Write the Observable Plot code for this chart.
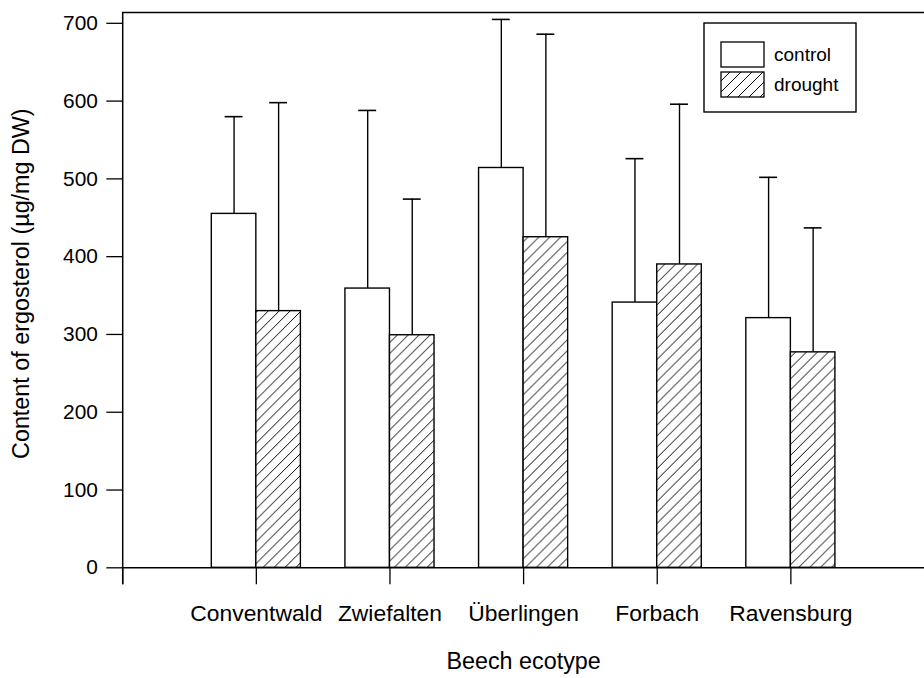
<!DOCTYPE html>
<html>
<head>
<meta charset="utf-8">
<script src="https://cdn.jsdelivr.net/npm/d3@7"></script>
<script src="https://cdn.jsdelivr.net/npm/@observablehq/plot@0.6"></script>
<style>
  html, body { margin: 0; padding: 0; background: #fff; overflow: hidden; }
  #wrap { position: relative; width: 924px; height: 678px; overflow: hidden; }
  #legend { position: absolute; left: 703px; top: 22px; }
  text { font-family: "Liberation Sans", Arial, sans-serif; }
</style>
</head>
<body>
<div id="wrap"></div>
<script>
// ---- data ----
const categories = ["Conventwald", "Zwiefalten", "Überlingen", "Forbach", "Ravensburg"];
const seriesNames = ["control", "drought"];
const controlMean = [455, 359, 514, 341, 321];
const controlSD   = [125, 229, 191, 185, 181];
const droughtMean = [330, 299, 425, 390, 277];
const droughtSD   = [268, 175, 261, 206, 160];
const yTicks = [0, 100, 200, 300, 400, 500, 600, 700];
const xTicks = [0, 1, 2, 3, 4, 5];

// ---- table built from the arrays ----
const BAR = 1 / 3; // bar width in category units
const rows = [];
categories.forEach((c, i) => {
  rows.push({cat: c, pos: i + 1, series: "control", mean: controlMean[i], sd: controlSD[i]});
  rows.push({cat: c, pos: i + 1, series: "drought", mean: droughtMean[i], sd: droughtSD[i]});
});
const ctrl = rows.filter(d => d.series === "control");
const drgt = rows.filter(d => d.series === "drought");
const center = d => d.series === "control" ? d.pos - BAR / 2 : d.pos + BAR / 2;

function addHatch(parent, id) {
  const p = parent.append("pattern").attr("id", id).attr("patternUnits", "userSpaceOnUse")
    .attr("width", 11).attr("height", 11);
  p.append("rect").attr("width", 11).attr("height", 11).attr("fill", "white");
  p.append("path").attr("d", "M-3,3 L3,-3 M0,11 L11,0 M8,14 L14,8")
    .attr("stroke", "black").attr("stroke-width", 1.1).attr("shape-rendering", "crispEdges");
}
const defs = () => {
  const g = d3.create("svg:defs");
  addHatch(g, "hatch");
  return g.node();
};

const chart = Plot.plot({
  width: 930,
  height: 678,
  marginLeft: 123,
  marginRight: 0,
  marginTop: 12,
  marginBottom: 107,
  style: {fontFamily: "'Liberation Sans', Arial, sans-serif", fontSize: "22px", color: "black", background: "white"},
  x: {type: "linear", domain: [0, 6]},
  y: {domain: [0, 714]},
  marks: [
    defs,
    Plot.rectY(ctrl, {x1: d => d.pos - BAR, x2: d => d.pos, y: "mean", fill: "white", stroke: "black", strokeWidth: 1.4}),
    Plot.rectY(drgt, {x1: d => d.pos, x2: d => d.pos + BAR, y: "mean", fill: "url(#hatch)", stroke: "black", strokeWidth: 1.4}),
    Plot.ruleX(rows, {x: center, y1: "mean", y2: d => d.mean + d.sd, stroke: "black", strokeWidth: 1.4}),
    Plot.ruleY(rows, {x1: center, x2: center, y: d => d.mean + d.sd, insetLeft: -9, insetRight: -9, stroke: "black", strokeWidth: 1.6}),
    Plot.ruleY([0], {stroke: "black", strokeWidth: 1.6}),
    Plot.ruleX([0], {insetBottom: -17, stroke: "black", strokeWidth: 1.5}),
    Plot.frame({anchor: "top", stroke: "black", strokeWidth: 1.5}),
    Plot.axisY({ticks: yTicks, tickSize: 16, tickPadding: 9, label: null, strokeWidth: 1.3, fontSize: 21}),
    Plot.axisX({ticks: xTicks, tickFormat: i => categories[i - 1] ?? "", tickSize: 17, tickPadding: 20, label: null, strokeWidth: 1.3, fontSize: 23}),
    Plot.text(["Beech ecotype"], {frameAnchor: "bottom", dy: 94, lineAnchor: "middle", textAnchor: "middle", fontSize: 23.5, fill: "black"}),
    Plot.text(["Content of ergosterol (µg/mg DW)"], {frameAnchor: "left", rotate: -90, dx: -102, dy: -6.5, lineAnchor: "middle", textAnchor: "middle", fontSize: 23.5, fill: "black"})
  ]
});
document.getElementById("wrap").appendChild(chart);

// ---- legend (inside the plot, top right) ----
const lg = d3.select("#wrap").append("svg").attr("id", "legend").attr("width", 155).attr("height", 92);
addHatch(lg.append("defs"), "hatch2");
lg.append("rect").attr("x", 1).attr("y", 1).attr("width", 152).attr("height", 89).attr("fill", "white").attr("stroke", "black").attr("stroke-width", 1.4);
seriesNames.forEach((s, i) => {
  lg.append("rect").attr("x", 18).attr("y", 20 + i * 30).attr("width", 43).attr("height", 25)
    .attr("fill", i === 0 ? "white" : "url(#hatch2)").attr("stroke", "black").attr("stroke-width", 1.3);
  lg.append("text").attr("x", 71).attr("y", 32 + i * 30).attr("dy", "0.35em").attr("font-size", 19).text(s);
});
</script>
</body>
</html>
